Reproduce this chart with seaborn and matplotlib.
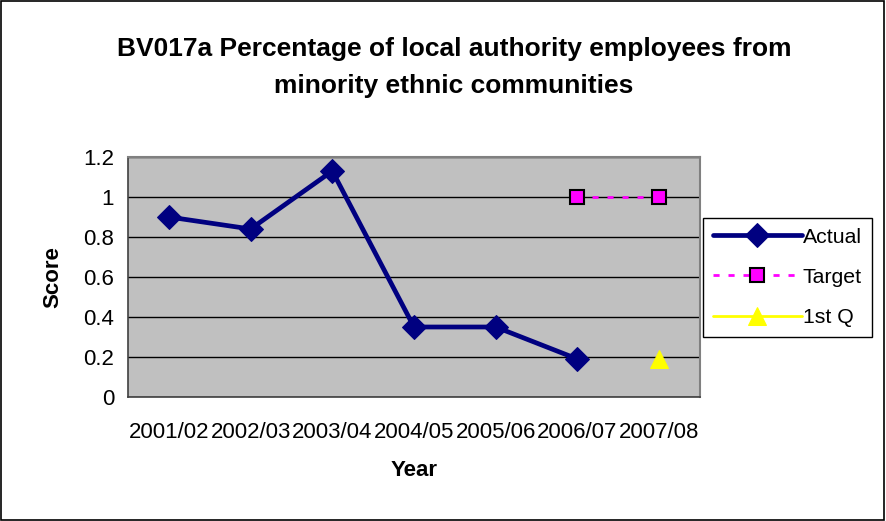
import numpy as np
import pandas as pd
import matplotlib
matplotlib.use("Agg")
import matplotlib.pyplot as plt
import seaborn as sns
from matplotlib.patches import Rectangle

years = ["2001/02", "2002/03", "2003/04", "2004/05", "2005/06", "2006/07", "2007/08"]
actual = [0.90, 0.84, 1.13, 0.35, 0.35, 0.19, np.nan]
target = [np.nan, np.nan, np.nan, np.nan, np.nan, 1.0, 1.0]
first_q = [np.nan, np.nan, np.nan, np.nan, np.nan, np.nan, 0.19]
yticks = [0, 0.2, 0.4, 0.6, 0.8, 1, 1.2]
ytick_labels = ["0", "0.2", "0.4", "0.6", "0.8", "1", "1.2"]

sns.set_style("white")
plt.rcParams['font.family'] = ['Liberation Sans', 'DejaVu Sans']
plt.rcParams['text.color'] = 'black'
plt.rcParams['axes.labelcolor'] = 'black'
plt.rcParams['xtick.color'] = 'black'
plt.rcParams['ytick.color'] = 'black'

fig = plt.figure(figsize=(8.86, 5.21), dpi=100)
fig.patches.append(Rectangle((0.001, 0.001), 0.997, 0.997, transform=fig.transFigure,
                             fill=False, edgecolor="black", linewidth=1.2))
ax = fig.add_axes([128/886, 1-397/521, (700-128)/886, (397-157)/521])
ax.set_facecolor("#C0C0C0")

pos = np.arange(len(years)) + 0.5
df = pd.DataFrame({"pos": pos, "Actual": actual, "Target": target, "1st Q": first_q})

sns.lineplot(data=df, x="pos", y="Actual", ax=ax, color="#000080", linewidth=3.4,
             marker="D", markersize=12, markeredgecolor="#000080", label="Actual")
sns.lineplot(data=df, x="pos", y="Target", ax=ax, color="#FF00FF", linewidth=2,
             linestyle=(0, (2.2, 3.2)), marker="s", markersize=10,
             markerfacecolor="#FF00FF", markeredgecolor="black", markeredgewidth=1.5,
             label="Target")
sns.lineplot(data=df, x="pos", y="1st Q", ax=ax, color="#FFFF00", linewidth=2,
             marker="^", markersize=13, markeredgecolor="#FFFF00", label="1st Q")

ax.set_xlim(0, len(years))
ax.set_ylim(0, 1.2)
ax.set_yticks(yticks)
ax.set_yticklabels(ytick_labels, fontsize=16)
ax.set_xticks(np.arange(len(years) + 1))
ax.set_xticklabels([])
ax.set_xticks(pos, minor=True)
ax.set_xticklabels(years, minor=True, fontsize=16)
ax.tick_params(axis="x", which="minor", length=0, pad=18)
ax.tick_params(axis="x", which="major", length=6, width=1, color="black", direction="out")
ax.tick_params(axis="y", which="major", length=6, width=1, color="black", direction="out", pad=4)
ax.grid(axis="y", color="black", linewidth=1)
ax.set_axisbelow(True)

for s in ["left", "bottom"]:
    ax.spines[s].set_color("#404040")
    ax.spines[s].set_linewidth(1.2)
for s in ["top", "right"]:
    ax.spines[s].set_color("#808080")
    ax.spines[s].set_linewidth(1.5)

ax.set_xlabel("Year", fontsize=16, fontweight="bold", labelpad=12)
ax.set_ylabel("Score", fontsize=16, fontweight="bold", labelpad=14)

fig.text(454/886, 1-67.5/521,
         "BV017a Percentage of local authority employees from\nminority ethnic communities",
         ha="center", va="center", fontsize=19, fontweight="bold", linespacing=1.7)

leg = ax.legend(loc="upper left", bbox_to_anchor=(703/886, 1-218/521),
                bbox_transform=fig.transFigure, fontsize=15.3, frameon=True,
                fancybox=False, edgecolor="black", framealpha=1, borderaxespad=0,
                handlelength=4.2, labelspacing=1.0, handletextpad=0.05, borderpad=0.45)
leg.get_frame().set_linewidth(1)

fig.savefig("out.png", dpi=100)
